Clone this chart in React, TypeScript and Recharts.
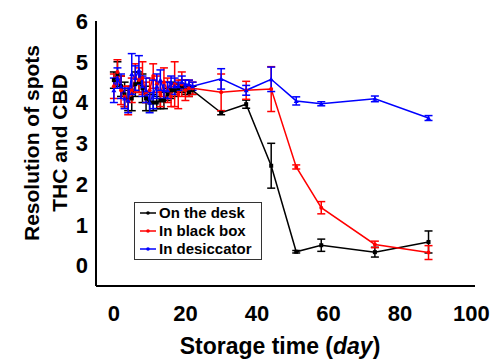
import React from "react";
import { ErrorBar, Label, Line, LineChart, XAxis, YAxis } from "recharts";

// storage days, shared by the three series
const days = [
	0, 1, 2, 3, 4, 5, 6, 7, 8, 9, 10, 11, 12, 13, 14, 15, 16, 17, 18, 19, 20, 21,
	22, 30, 37, 44, 51, 58, 73, 88,
];

const deskValues = [
	4.55, 4.7, 4.4, 4.2, 4.05, 4.1, 4.45, 4.5, 4.35, 4.1, 4.0, 4.0, 4.0, 4.05,
	4.05, 4.2, 4.3, 4.3, 4.35, 4.4, 4.3, 4.25, 4.3, 3.75, 3.96, 2.45, 0.34, 0.5,
	0.33, 0.58,
];
const deskErrors = [
	0.2, 0.3, 0.25, 0.3, 0.25, 0.3, 0.3, 0.25, 0.35, 0.3, 0.2, 0.2, 0.15, 0.2,
	0.2, 0.15, 0.2, 0.15, 0.1, 0.15, 0.1, 0.1, 0.1, 0.05, 0.1, 0.55, 0.03, 0.15,
	0.12, 0.27,
];

const boxValues = [
	4.4, 4.75, 4.3, 4.15, 4.05, 4.3, 4.6, 4.55, 4.6, 4.25, 4.3, 4.65, 4.45, 4.2,
	4.5, 4.3, 4.15, 4.45, 4.2, 4.45, 4.3, 4.35, 4.35, 4.25, 4.3, 4.33, 2.42, 1.42,
	0.52, 0.32,
];
const boxErrors = [
	0.3, 0.3, 0.35, 0.25, 0.35, 0.3, 0.35, 0.3, 0.4, 0.25, 0.3, 0.3, 0.2, 0.3,
	0.35, 0.3, 0.25, 0.55, 0.35, 0.3, 0.25, 0.2, 0.15, 0.45, 0.22, 0.55, 0.05,
	0.15, 0.08, 0.17,
];

const desiccatorValues = [
	4.3, 4.6, 4.4, 4.1, 4.05, 4.7, 4.6, 4.8, 4.4, 4.3, 4.0, 4.2, 4.4, 4.55, 4.3,
	4.3, 4.5, 4.4, 4.4, 4.5, 4.45, 4.45, 4.4, 4.58, 4.3, 4.57, 4.04, 3.97, 4.09,
	3.62,
];
const desiccatorErrors = [
	0.3, 0.25, 0.3, 0.25, 0.3, 0.5, 0.3, 0.35, 0.25, 0.3, 0.25, 0.35, 0.3, 0.25,
	0.2, 0.2, 0.15, 0.2, 0.1, 0.15, 0.1, 0.1, 0.1, 0.25, 0.12, 0.3, 0.1, 0.05,
	0.07, 0.06,
];

const xTicks = [0, 20, 40, 60, 80, 100];
const yTicks = [0, 1, 2, 3, 4, 5, 6];

const FONT = "'Liberation Sans', Arial, Helvetica, sans-serif";

const toRows = (values: number[], errors: number[]) =>
	days.map((day, i) => ({ day, value: values[i], err: errors[i] }));

const deskData = toRows(deskValues, deskErrors);
const boxData = toRows(boxValues, boxErrors);
const desiccatorData = toRows(desiccatorValues, desiccatorErrors);

const SquareDot = (props: any) => {
	const { cx, cy, key } = props;
	if (cx == null || cy == null) return null;
	return <rect key={key} x={cx - 2} y={cy - 2} width={4} height={4} fill="#000" />;
};

const CircleDot = (props: any) => {
	const { cx, cy, key } = props;
	if (cx == null || cy == null) return null;
	return <circle key={key} cx={cx} cy={cy} r={2} fill="#ff0000" />;
};

const TriangleDot = (props: any) => {
	const { cx, cy, key } = props;
	if (cx == null || cy == null) return null;
	return (
		<path
			key={key}
			d={`M${cx},${cy - 2.5}L${cx + 2.5},${cy + 2}L${cx - 2.5},${cy + 2}Z`}
			fill="#0000ff"
		/>
	);
};

const legendItems = [
	{ name: "On the desk", color: "#000" },
	{ name: "In black box", color: "#ff0000" },
	{ name: "In desiccator", color: "#0000ff" },
];

// legend box sits over the plot, so it is drawn outside the chart layout
const BoxLegend = () => (
	<div
		style={{
			position: "absolute",
			left: 134,
			top: 202,
			width: 122,
			border: "1px solid #333",
			background: "#fff",
			padding: "1px 0 1px 4px",
			fontFamily: FONT,
			fontWeight: "bold",
			fontSize: 15,
			lineHeight: "18px",
			whiteSpace: "nowrap",
		}}
	>
		{legendItems.map((item) => (
			<div key={item.name} style={{ display: "flex", alignItems: "center" }}>
				<svg width={18} height={10} style={{ marginRight: 2 }}>
					<line x1={1} y1={5} x2={17} y2={5} stroke={item.color} strokeWidth={1.5} />
					<circle cx={9} cy={5} r={1.8} fill={item.color} />
				</svg>
				<span>{item.name}</span>
			</div>
		))}
	</div>
);

const YTitle = () => (
	<g fontFamily={FONT} fontWeight="bold" fontSize={21} fill="#000">
		<text x={39} y={143} textAnchor="middle" transform="rotate(-90 39 143)">
			Resolution of spots
		</text>
		<text x={67} y={143} textAnchor="middle" transform="rotate(-90 67 143)">
			THC and CBD
		</text>
	</g>
);

const XTitle = () => (
	<text
		x={280}
		y={354}
		textAnchor="middle"
		fontFamily={FONT}
		fontWeight="bold"
		fontSize={23}
		fill="#000"
	>
		Storage time (<tspan fontStyle="italic">day</tspan>)
	</text>
);

export default function App() {
	const tickStyle = { fill: "#000", fontFamily: FONT, fontWeight: "bold", fontSize: 22 };
	return (
		<div style={{ position: "absolute", left: 0, top: 0, width: 497, height: 363, background: "#fff" }}>
			<LineChart
				width={497}
				height={363}
				margin={{ top: 21, right: 22, bottom: 21, left: 66 }}
			>
				<XAxis
					dataKey="day"
					type="number"
					domain={[-5, 101]}
					ticks={xTicks}
					allowDataOverflow
					axisLine={{ stroke: "#000", strokeWidth: 2 }}
					tickLine={false}
					tickMargin={13}
					tick={tickStyle}
					height={56}
				>
					<Label content={<XTitle />} />
				</XAxis>
				<YAxis
					type="number"
					domain={[-0.5, 6]}
					ticks={yTicks}
					allowDataOverflow
					axisLine={{ stroke: "#000", strokeWidth: 2 }}
					tickLine={false}
					tick={tickStyle}
					width={30}
				>
					<Label content={<YTitle />} />
				</YAxis>
				<Line
					data={deskData}
					dataKey="value"
					name="On the desk"
					stroke="#000"
					strokeWidth={1.5}
					dot={<SquareDot />}
					activeDot={false}
					isAnimationActive={false}
				>
					<ErrorBar dataKey="err" direction="y" width={4} stroke="#000" strokeWidth={1.5} />
				</Line>
				<Line
					data={boxData}
					dataKey="value"
					name="In black box"
					stroke="#ff0000"
					strokeWidth={1.5}
					dot={<CircleDot />}
					activeDot={false}
					isAnimationActive={false}
				>
					<ErrorBar dataKey="err" direction="y" width={4} stroke="#ff0000" strokeWidth={1.5} />
				</Line>
				<Line
					data={desiccatorData}
					dataKey="value"
					name="In desiccator"
					stroke="#0000ff"
					strokeWidth={1.5}
					dot={<TriangleDot />}
					activeDot={false}
					isAnimationActive={false}
				>
					<ErrorBar dataKey="err" direction="y" width={4} stroke="#0000ff" strokeWidth={1.5} />
				</Line>
			</LineChart>
			<BoxLegend />
		</div>
	);
}
